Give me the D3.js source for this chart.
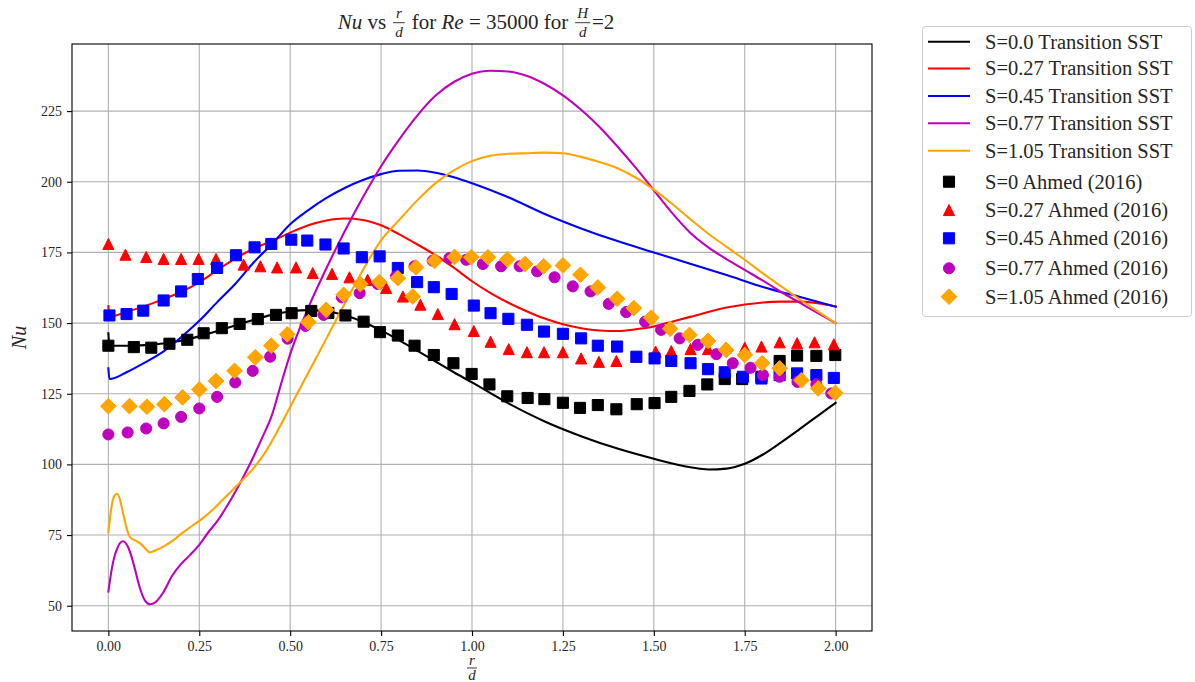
<!DOCTYPE html>
<html><head><meta charset="utf-8">
<script src="https://cdn.jsdelivr.net/npm/d3@7"></script>
<style>
body{margin:0;background:#fff}
svg{display:block}
text{font-family:"Liberation Serif","DejaVu Serif",serif;fill:#262626}
</style>
</head><body>
<svg id="c" width="1195" height="682"></svg>
<script>
// ---------- DATA ----------
const xTicks = [0, 0.25, 0.5, 0.75, 1.0, 1.25, 1.5, 1.75, 2.0];
const yTicks = [50, 75, 100, 125, 150, 175, 200, 225];

const lineLabels = ["S=0.0 Transition SST","S=0.27 Transition SST","S=0.45 Transition SST","S=0.77 Transition SST","S=1.05 Transition SST"];
const markLabels = ["S=0 Ahmed (2016)","S=0.27 Ahmed (2016)","S=0.45 Ahmed (2016)","S=0.77 Ahmed (2016)","S=1.05 Ahmed (2016)"];
const seriesColors = ["#000000","#ff0000","#0000ff","#bf00bf","#ffa500"];
const markShapes = ["square","triangle","square","circle","diamond"];

// Transition SST simulations
const sstX_S0 = [0,0.003,0.05,0.1,0.15,0.2,0.25,0.3,0.35,0.4,0.45,0.5,0.55,0.6,0.65,0.7,0.75,0.8,0.85,0.9,0.95,1.0,1.1,1.2,1.3,1.4,1.5,1.6,1.65,1.7,1.75,1.8,1.85,1.9,1.95,2.0];
const sstNu_S0 = [146.4,142.0,142.0,142.2,142.8,143.8,145.3,147.2,149.2,151.2,152.9,154.1,154.6,154.2,152.8,150.5,147.4,143.9,140.2,136.4,132.6,129.0,121.6,115.2,110.0,105.6,102.0,99.0,98.2,98.5,100.2,103.5,107.8,112.4,117.1,121.8];

const sstX_S027 = [0,0.003,0.05,0.1,0.15,0.2,0.25,0.3,0.35,0.4,0.45,0.5,0.55,0.6,0.65,0.7,0.75,0.8,0.85,0.9,0.95,1.0,1.05,1.1,1.15,1.2,1.25,1.3,1.35,1.4,1.45,1.5,1.55,1.6,1.7,1.8,1.85,1.9,1.95,2.0];
const sstNu_S027 = [156.0,152.3,154.0,156.0,158.4,161.0,164.4,168.8,172.9,176.4,179.0,182.0,184.6,186.3,187.0,186.5,184.6,181.4,177.8,174.0,169.6,164.8,160.7,157.2,154.2,151.6,149.6,148.2,147.4,147.2,147.8,148.8,150.5,152.2,155.5,157.3,157.6,157.6,157.0,155.9];

const sstX_S045 = [0,0.003,0.05,0.1,0.15,0.2,0.25,0.3,0.35,0.4,0.45,0.5,0.55,0.6,0.65,0.7,0.75,0.8,0.85,0.9,0.95,1.0,1.1,1.2,1.3,1.4,1.5,1.6,1.7,1.8,1.9,2.0];
const sstNu_S045 = [134.0,130.2,132.6,136.0,139.8,145.0,150.8,157.5,164.0,171.5,178.0,185.0,190.0,194.3,197.8,200.6,202.7,203.9,204.0,203.2,201.6,199.5,194.5,188.6,183.5,179.0,175.0,171.0,167.0,162.8,159.3,155.8];

const sstX_S077 = [0,0.01,0.025,0.04,0.055,0.07,0.085,0.1,0.115,0.13,0.15,0.175,0.2,0.225,0.25,0.275,0.3,0.325,0.35,0.375,0.4,0.425,0.45,0.475,0.5,0.55,0.6,0.65,0.7,0.75,0.8,0.85,0.9,0.95,1.0,1.05,1.1,1.15,1.2,1.25,1.3,1.35,1.4,1.45,1.5,1.55,1.6,1.65,1.7,1.75,1.8,1.85,1.9,1.95,2.0];
const sstNu_S077 = [55.0,63.5,70.5,72.8,70.5,64.5,57.0,52.0,50.5,51.3,54.5,60.5,64.8,68.0,71.5,76.0,80.0,85.0,90.5,96.5,103.0,110.0,117.5,128.5,139.0,155.5,169.5,182.5,194.5,205.5,215.0,223.5,230.5,235.3,238.2,239.3,239.0,237.5,234.6,230.6,225.5,219.5,212.5,205.0,197.0,189.0,182.0,176.8,172.6,168.8,165.0,161.0,157.3,153.6,150.0];

const sstX_S105 = [0,0.008,0.016,0.024,0.032,0.04,0.05,0.06,0.075,0.09,0.1,0.114,0.13,0.155,0.18,0.2,0.23,0.26,0.29,0.32,0.36,0.4,0.43,0.465,0.5,0.538,0.575,0.62,0.667,0.7,0.75,0.8,0.85,0.9,0.95,1.0,1.05,1.1,1.15,1.2,1.25,1.3,1.35,1.4,1.45,1.5,1.55,1.6,1.65,1.7,1.75,1.8,1.85,1.9,1.95,2.0];
const sstNu_S105 = [76.0,84.5,88.8,89.6,87.5,83.0,77.5,74.2,73.0,71.8,70.5,68.9,69.6,71.2,73.3,75.4,78.2,81.0,84.3,88.2,93.3,98.8,104.0,111.8,120.3,129.6,138.5,149.6,161.0,168.8,179.3,186.5,193.5,199.5,204.0,207.3,209.2,209.9,210.1,210.3,210.1,208.8,207.0,204.8,201.5,197.2,192.2,186.8,181.6,177.0,172.4,167.6,163.0,158.5,154.2,150.0];

// Ahmed (2016) experiments
const expX_S0 = [0,0.07,0.118,0.168,0.217,0.262,0.312,0.361,0.411,0.461,0.504,0.558,0.605,0.652,0.702,0.747,0.796,0.842,0.895,0.949,0.999,1.048,1.097,1.153,1.199,1.25,1.297,1.346,1.397,1.453,1.502,1.548,1.598,1.647,1.695,1.743,1.796,1.846,1.894,1.947,1.999];
const expNu_S0 = [142.0,141.5,141.3,142.7,144.1,146.4,148.2,149.7,151.4,152.9,153.5,154.3,153.6,152.7,150.5,146.8,145.6,142.0,138.7,135.8,132.0,128.3,124.1,123.5,123.1,121.8,120.0,121.0,119.5,121.3,121.7,123.9,126.0,128.3,130.2,130.2,131.0,136.6,138.5,138.4,138.7];

const expX_S027 = [0,0.047,0.104,0.152,0.2,0.248,0.296,0.372,0.418,0.464,0.516,0.562,0.615,0.663,0.713,0.764,0.81,0.858,0.906,0.952,1.005,1.051,1.101,1.151,1.198,1.25,1.3,1.349,1.397,1.452,1.505,1.548,1.601,1.649,1.697,1.75,1.796,1.846,1.894,1.942,1.995];
const expNu_S027 = [178.0,174.2,173.4,172.7,172.7,172.7,172.7,170.7,170.1,169.7,169.7,167.7,167.4,166.2,165.3,162.4,159.4,156.5,153.2,149.6,147.2,143.4,140.8,139.7,139.7,139.7,137.5,136.3,136.6,138.1,139.9,140.1,140.8,140.8,141.2,141.3,141.7,143.2,142.9,143.2,142.5];

const expX_S045 = [0.003,0.05,0.096,0.152,0.2,0.246,0.299,0.351,0.402,0.448,0.503,0.547,0.597,0.647,0.697,0.746,0.796,0.849,0.895,0.944,1.005,1.051,1.1,1.151,1.198,1.25,1.3,1.346,1.399,1.452,1.502,1.548,1.601,1.649,1.695,1.745,1.796,1.846,1.894,1.947,1.995];
const expNu_S045 = [152.7,153.2,154.4,158.0,161.2,165.6,169.5,174.0,176.8,178.0,179.5,179.2,177.8,176.4,173.3,173.6,169.5,164.5,162.7,160.3,156.2,153.5,151.5,149.4,147.0,146.2,144.6,142.0,141.7,138.1,137.5,136.6,135.8,133.7,132.6,131.0,130.4,131.6,132.2,131.6,130.6];

const expX_S077 = [0,0.053,0.104,0.152,0.2,0.25,0.299,0.349,0.397,0.445,0.493,0.542,0.592,0.642,0.691,0.741,0.791,0.842,0.892,0.938,0.984,1.03,1.08,1.131,1.179,1.227,1.277,1.326,1.376,1.424,1.476,1.52,1.571,1.621,1.672,1.717,1.766,1.8,1.846,1.895,1.947,1.988];
const expNu_S077 = [110.6,111.3,112.7,114.5,116.8,119.8,123.9,129.0,133.1,138.1,144.5,149.0,152.9,159.1,160.6,163.8,166.5,170.1,172.1,173.0,172.4,170.9,170.1,170.1,168.3,166.2,163.0,161.2,156.8,153.9,150.5,147.6,144.6,142.3,139.0,135.8,134.2,131.6,131.0,129.2,128.3,125.1];

const expX_S105 = [0,0.058,0.106,0.154,0.204,0.25,0.296,0.347,0.404,0.448,0.492,0.55,0.599,0.647,0.693,0.745,0.796,0.837,0.846,0.897,0.952,0.998,1.044,1.097,1.146,1.197,1.25,1.298,1.346,1.399,1.445,1.493,1.545,1.598,1.649,1.699,1.75,1.798,1.846,1.906,1.952,1.999];
const expNu_S105 = [120.6,120.6,120.4,121.3,123.7,126.5,129.5,133.1,137.9,142.0,146.0,150.3,154.7,160.0,163.8,164.5,165.9,159.4,169.7,172.0,173.4,173.3,173.3,172.5,170.9,170.1,170.4,167.1,162.6,158.6,155.3,151.9,148.0,145.8,143.7,140.5,138.7,135.8,134.0,129.8,126.9,125.3];

const sstSeries = [[sstX_S0,sstNu_S0],[sstX_S027,sstNu_S027],[sstX_S045,sstNu_S045],[sstX_S077,sstNu_S077],[sstX_S105,sstNu_S105]];
const expSeries = [[expX_S0,expNu_S0],[expX_S027,expNu_S027],[expX_S045,expNu_S045],[expX_S077,expNu_S077],[expX_S105,expNu_S105]];

// ---------- LAYOUT ----------
const PL = 72, PR = 872, PT = 44, PB = 631;
const svg = d3.select("#c");
const x = d3.scaleLinear().domain([-0.1, 2.1]).range([PL, PR]);
const y = d3.scaleLinear().domain([41.06, 248.74]).range([PB, PT]);
const MS = 11.1; // marker size px

function markerPath(shape, s) {
  const h = s / 2;
  if (shape === "square") return `M${-h},${-h}H${h}V${h}H${-h}Z`;
  if (shape === "triangle") return `M0,${-h}L${h},${h}L${-h},${h}Z`;
  if (shape === "diamond") { const r = s * Math.SQRT2 / 2; return `M0,${-r}L${r},0L0,${r}L${-r},0Z`; }
  return d3.symbol(d3.symbolCircle, Math.PI * h * h)();
}

// grid
const grid = svg.append("g");
grid.selectAll("line.gx").data(xTicks).join("line")
  .attr("x1", d => x(d)).attr("x2", d => x(d)).attr("y1", PT).attr("y2", PB)
  .attr("stroke", "#b0b0b0").attr("stroke-width", 1.1);
grid.selectAll("line.gy").data(yTicks).join("line")
  .attr("y1", d => y(d)).attr("y2", d => y(d)).attr("x1", PL).attr("x2", PR)
  .attr("stroke", "#b0b0b0").attr("stroke-width", 1.1);

// lines
const lineGen = d3.line().x(d => x(d[0])).y(d => y(d[1])).curve(d3.curveMonotoneX);
sstSeries.forEach((s, i) => {
  const pts = s[0].map((v, k) => [v, s[1][k]]);
  svg.append("path").attr("d", lineGen(pts)).attr("fill", "none")
    .attr("stroke", seriesColors[i]).attr("stroke-width", 2.1)
    .attr("stroke-linejoin", "round").attr("stroke-linecap", "square");
});

// markers
expSeries.forEach((s, i) => {
  const pts = s[0].map((v, k) => [v, s[1][k]]);
  svg.append("g").selectAll("path").data(pts).join("path")
    .attr("transform", d => `translate(${x(d[0])},${y(d[1])})`)
    .attr("d", markerPath(markShapes[i], MS))
    .attr("fill", seriesColors[i]).attr("stroke", seriesColors[i]).attr("stroke-width", 1);
});

// frame
svg.append("rect").attr("x", PL).attr("y", PT).attr("width", PR - PL).attr("height", PB - PT)
  .attr("fill", "none").attr("stroke", "#000").attr("stroke-width", 1.1);

// axes
const xAxis = d3.axisBottom(x).tickValues(xTicks).tickFormat(d3.format(".2f")).tickSize(5).tickPadding(5);
const yAxis = d3.axisLeft(y).tickValues(yTicks).tickFormat(d3.format("d")).tickSize(5).tickPadding(5);
const gx = svg.append("g").attr("transform", `translate(0,${PB})`).call(xAxis);
const gy = svg.append("g").attr("transform", `translate(${PL},0)`).call(yAxis);
[gx, gy].forEach(g => {
  g.select(".domain").remove();
  g.selectAll(".tick line").attr("stroke", "#000").attr("stroke-width", 1.1);
  g.selectAll(".tick text").attr("font-family", "'Liberation Serif', serif").attr("font-size", 14).attr("fill", "#262626");
});

// math text helper
function mathText(parent, parts, cx, baseY, fs) {
  const g = parent.append("g");
  let cur = 0;
  parts.forEach(p => {
    if (p.frac) {
      const sfs = fs * 0.72;
      const n = g.append("text").attr("font-size", sfs).attr("font-style", "italic").attr("text-anchor", "middle").text(p.frac[0]);
      const d = g.append("text").attr("font-size", sfs).attr("font-style", "italic").attr("text-anchor", "middle").text(p.frac[1]);
      const w = Math.max(n.node().getComputedTextLength(), d.node().getComputedTextLength()) + fs * 0.2;
      const mx = cur + w / 2 + fs * 0.08;
      n.attr("x", mx).attr("y", baseY - fs * 0.52);
      d.attr("x", mx).attr("y", baseY + fs * 0.38);
      g.append("line").attr("x1", cur + fs * 0.08).attr("x2", cur + fs * 0.08 + w)
        .attr("y1", baseY - fs * 0.3).attr("y2", baseY - fs * 0.3).attr("stroke", "#262626").attr("stroke-width", 0.9);
      cur += w + fs * 0.16;
    } else {
      const t = g.append("text").attr("font-size", fs).attr("x", cur).attr("y", baseY)
        .attr("font-style", p.it ? "italic" : "normal").attr("xml:space", "preserve").style("white-space", "pre").text(p.t);
      cur += t.node().getComputedTextLength();
    }
  });
  g.attr("transform", `translate(${cx - cur / 2},0)`);
  return g;
}

// title
mathText(svg, [
  {t: "Nu", it: true}, {t: " vs "}, {frac: ["r", "d"]}, {t: " for "}, {t: "Re", it: true},
  {t: " = 35000 for "}, {frac: ["H", "d"]}, {t: "=2"}
], (PL + PR) / 2 + 4, 29, 21);

// x label
const xl = svg.append("g");
const xc = (PL + PR) / 2;
xl.append("text").attr("x", xc).attr("y", 665).attr("text-anchor", "middle").attr("font-size", 15).attr("font-style", "italic").text("r");
xl.append("line").attr("x1", xc - 5).attr("x2", xc + 5).attr("y1", 668).attr("y2", 668).attr("stroke", "#262626").attr("stroke-width", 0.9);
xl.append("text").attr("x", xc).attr("y", 680).attr("text-anchor", "middle").attr("font-size", 15).attr("font-style", "italic").text("d");

// y label
svg.append("text").attr("transform", `translate(26,${(PT + PB) / 2}) rotate(-90)`)
  .attr("text-anchor", "middle").attr("font-size", 20).attr("font-style", "italic").text("Nu");

// legend
const lg = svg.append("g");
lg.append("rect").attr("x", 922.5).attr("y", 26.5).attr("width", 269).attr("height", 290).attr("rx", 3)
  .attr("fill", "#fff").attr("fill-opacity", 0.8).attr("stroke", "#cccccc").attr("stroke-width", 1);
const lineRowY = [41.7, 68.5, 96, 123.3, 150.7];
const markRowY = [181.7, 210, 238.3, 268.3, 296.7];
lineLabels.forEach((lab, i) => {
  lg.append("line").attr("x1", 928).attr("x2", 970).attr("y1", lineRowY[i]).attr("y2", lineRowY[i])
    .attr("stroke", seriesColors[i]).attr("stroke-width", 2.1);
  lg.append("text").attr("x", 985).attr("y", lineRowY[i] + 6.8).attr("font-size", 20.5).text(lab);
});
markLabels.forEach((lab, i) => {
  lg.append("path").attr("transform", `translate(949,${markRowY[i]})`).attr("d", markerPath(markShapes[i], MS))
    .attr("fill", seriesColors[i]).attr("stroke", seriesColors[i]).attr("stroke-width", 1);
  lg.append("text").attr("x", 985).attr("y", markRowY[i] + 6.8).attr("font-size", 20.5).text(lab);
});
</script>
</body></html>
